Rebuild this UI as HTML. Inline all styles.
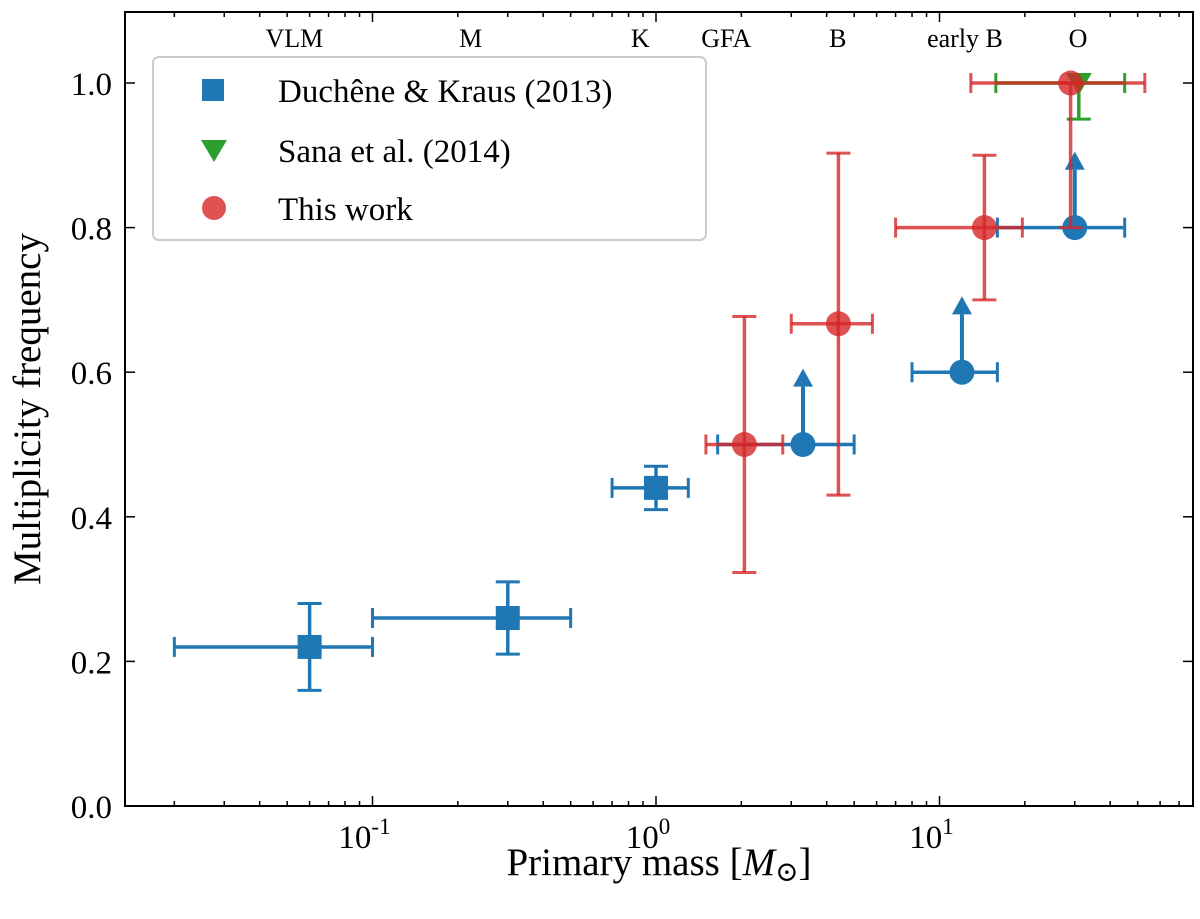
<!DOCTYPE html>
<html><head><meta charset="utf-8"><style>
body{margin:0;background:#fff}
svg text{font-family:"Liberation Serif","DejaVu Serif",serif;fill:#000}
</style></head><body>
<svg id="c" width="1200" height="914" xmlns="http://www.w3.org/2000/svg">
<g id="marks"></g>
<rect x="125" y="12" width="1068" height="794" fill="none" stroke="#000" stroke-width="2"/>
<g id="axes"></g>
<text x="659" y="875" font-size="39" text-anchor="middle">Primary mass [<tspan font-style="italic">M</tspan><tspan font-size="28" dy="6">⊙</tspan><tspan dy="-6">]</tspan></text>
<text transform="translate(40,409) rotate(-90)" font-size="39" text-anchor="middle">Multiplicity frequency</text>
<g>
<rect x="153" y="57" width="553" height="183" rx="6" fill="#fff" fill-opacity="0.8" stroke="#ccc" stroke-width="2"/>
<rect x="202" y="79" width="22" height="22" fill="#1f77b4"/>
<text x="278" y="102" font-size="33">Duchêne &amp; Kraus (2013)</text>
<polygon points="201,140 227,140 214,162" fill="#2ca02c"/>
<text x="278" y="162" font-size="33">Sana et al. (2014)</text>
<circle cx="214" cy="208" r="12" fill="#d62728" fill-opacity="0.8"/>
<text x="278" y="220" font-size="33">This work</text>
</g>
</svg>
<script>
const spectralLabels=["VLM","M","K","GFA","B","early B","O"];
const spectralX=[0.053,0.222,0.88,1.77,4.38,12.3,30.8];
const ducheneX=[0.06,0.3,1.0];const ducheneY=[0.22,0.26,0.44];
const ducheneXlo=[0.02,0.1,0.7];const ducheneXhi=[0.1,0.5,1.3];
const ducheneYlo=[0.16,0.21,0.41];const ducheneYhi=[0.28,0.31,0.47];
const limX=[3.3,12,30];const limY=[0.5,0.6,0.8];
const limXlo=[1.65,8,16];const limXhi=[5,16,45];
const sanaX=[31];const sanaY=[1.0];const sanaXlo=[15.8];const sanaXhi=[45];const sanaYlo=[0.95];const sanaYhi=[1.0];
const workX=[2.05,4.4,14.4,29];const workY=[0.5,0.667,0.8,1.0];
const workXlo=[1.5,3.0,7.0,12.9];const workXhi=[2.8,5.8,19.6,53];
const workYlo=[0.323,0.43,0.70,0.80];const workYhi=[0.677,0.903,0.90,1.0];
const yTicks=[0,0.2,0.4,0.6,0.8,1.0];const yTickLabels=["0.0","0.2","0.4","0.6","0.8","1.0"];
const xMajor=[-1,0,1];

const X=v=>656+283.5*Math.log10(v);
const Y=v=>806-723*v;
const NS="http://www.w3.org/2000/svg";
const marks=document.getElementById('marks'),axes=document.getElementById('axes');
function mk(tag,attrs,parent,name){const e=document.createElementNS(NS,tag);for(const k in attrs)e.setAttribute(k,attrs[k]);


parent.appendChild(e);return e;}
function ln(x1,y1,x2,y2,col,w,p,name,op){return mk('line',{x1,y1,x2,y2,stroke:col,'stroke-width':w,'stroke-opacity':op||1},p,name);}
function errbar(x,y,xl,xh,yl,yh,col,op,name){
 const g=mk('g',{},marks,name);
 ln(X(xl),Y(y),X(xh),Y(y),col,3.5,g,'x-error',op);
 ln(X(xl),Y(y)-10,X(xl),Y(y)+10,col,3,g,'x-cap',op);ln(X(xh),Y(y)-10,X(xh),Y(y)+10,col,3,g,'x-cap',op);
 if(yl!==null){ln(X(x),Y(yl),X(x),Y(yh),col,3.5,g,'y-error',op);
 ln(X(x)-12,Y(yl),X(x)+12,Y(yl),col,3,g,'y-cap',op);ln(X(x)-12,Y(yh),X(x)+12,Y(yh),col,3,g,'y-cap',op);}
 return g;}
const B="#1f77b4",R="#d62728",G="#2ca02c";
ducheneX.forEach((x,i)=>{const g=errbar(x,ducheneY[i],ducheneXlo[i],ducheneXhi[i],ducheneYlo[i],ducheneYhi[i],B,1,'duchene-point');
 mk('rect',{x:X(x)-12,y:Y(ducheneY[i])-12,width:24,height:24,fill:B},g,'duchene-square');});
limX.forEach((x,i)=>{const g=errbar(x,limY[i],limXlo[i],limXhi[i],null,null,B,1,'duchene-lower-limit');
 ln(X(x),Y(limY[i]),X(x),Y(limY[i]+0.08),B,4,g,'limit-arrow-shaft');
 mk('polygon',{points:`${X(x)-10},${Y(limY[i]+0.08)} ${X(x)+10},${Y(limY[i]+0.08)} ${X(x)},${Y(limY[i]+0.105)}`,fill:B},g,'limit-arrow-head');
 mk('circle',{cx:X(x),cy:Y(limY[i]),r:12.5,fill:B},g,'duchene-circle');});
sanaX.forEach((x,i)=>{const g=errbar(x,sanaY[i],sanaXlo[i],sanaXhi[i],sanaYlo[i],sanaYhi[i],G,1,'sana-point');
 mk('polygon',{points:`${X(x)-13},${Y(sanaY[i])-10} ${X(x)+13},${Y(sanaY[i])-10} ${X(x)},${Y(sanaY[i])+12}`,fill:G},g,'sana-triangle');});
workX.forEach((x,i)=>{const g=errbar(x,workY[i],workXlo[i],workXhi[i],workYlo[i],workYhi[i],R,0.8,'this-work-point');
 mk('circle',{cx:X(x),cy:Y(workY[i]),r:12.5,fill:R,'fill-opacity':0.8},g,'this-work-circle');});
yTicks.forEach((v,i)=>{const y=Y(v);
 ln(125,y,135,y,'#000',1.5,axes,'y-tick');ln(1183,y,1193,y,'#000',1.5,axes,'y-tick-right');
 const t=mk('text',{x:112,y:y+12,'font-size':33,'text-anchor':'end'},axes,'y-tick-label');t.textContent=yTickLabels[i];});
for(let d=-2;d<=1;d++)for(let m=1;m<10;m++){const v=m*Math.pow(10,d),x=X(v);if(x<125||x>1193)continue;
 const L=m===1?10:5;ln(x,806,x,806-L,'#000',1.5,axes,'x-tick');ln(x,12,x,12+L,'#000',1.5,axes,'x-tick-top');}
xMajor.forEach(e=>{const t=mk('text',{x:X(Math.pow(10,e))-8,y:848,'font-size':33,'text-anchor':'middle'},axes,'x-tick-label');
 t.innerHTML=`10<tspan font-size="23" dy="-14">${e}</tspan>`;});
spectralLabels.forEach((s,i)=>{const t=mk('text',{x:X(spectralX[i]),y:47,'font-size':26,'text-anchor':'middle'},axes,'spectral-type-label');t.textContent=s;});
</script>
</body></html>
